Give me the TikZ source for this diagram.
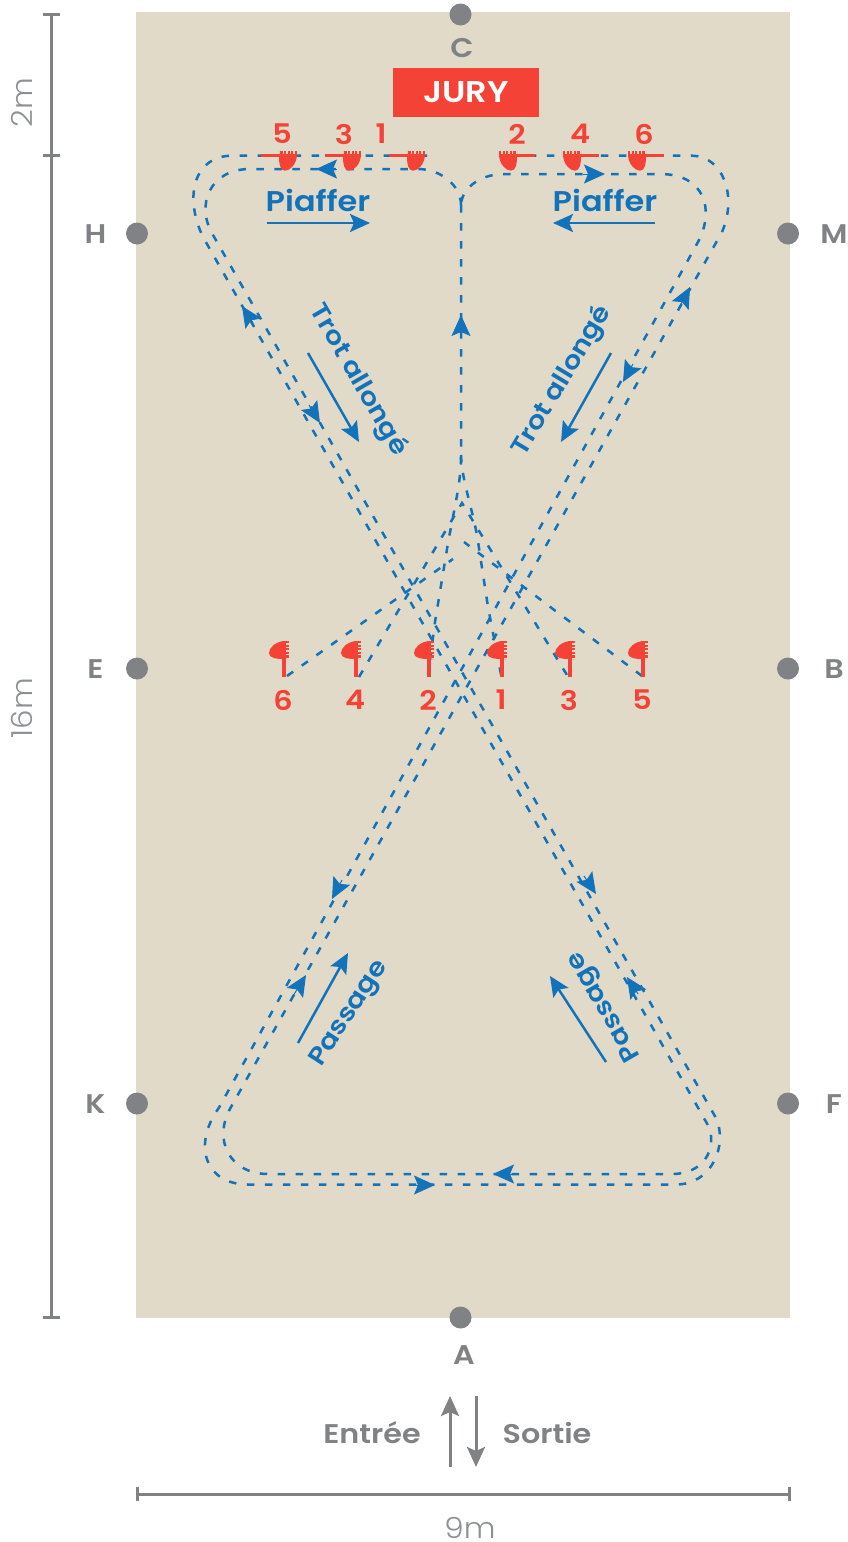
\documentclass[tikz,border=0pt]{standalone}
\usepackage{fontspec}
\setmainfont{Poppins}[BoldFont={Poppins SemiBold},BoldFeatures={FakeStretch=1.12}]
\newfontfamily\thinfont{Poppins Light}[FakeStretch=1.07]
\usepackage{xcolor}
\usetikzlibrary{arrows.meta,positioning}
\definecolor{sand}{HTML}{E1DAC8}
\definecolor{juryred}{HTML}{F44236}
\definecolor{flowblue}{HTML}{1272BA}
\definecolor{markgray}{HTML}{808285}
\definecolor{thingray}{HTML}{8E9093}
\tikzset{hoof/.pic={
  \fill[juryred] (0,0) .. controls (1,9) and (7,15) .. (12,15) .. controls (17,15) and (18,8) .. (18,0) -- cycle;
  \draw[juryred,line width=3.3pt] (0,0)--(36,0);
  \draw[juryred,line width=3.6pt,dash pattern=on 2.2pt off 1.4pt] (0,-3.3)--(18,-3.3);
}}
\begin{document}
\begin{tikzpicture}[x=1pt,y=-1pt,font=\fontsize{27pt}{30pt}\selectfont\bfseries,
  route/.style={flowblue,line width=2.5pt,dash pattern=on 7.5pt off 10.5pt},
  tip/.style={flowblue,line width=1pt,-{Stealth[length=21pt,width=19pt,inset=4pt]}},
  sign/.style={flowblue,line width=2.5pt,-{Stealth[length=20pt,width=18pt,inset=4pt]}},
  gait/.style={text=flowblue,inner sep=0pt,font=\fontsize{28.5pt}{30pt}\selectfont\bfseries},
  gaitlong/.style={text=flowblue,inner sep=0pt,font=\fontsize{25pt}{30pt}\selectfont\bfseries},
  num/.style={text=juryred,inner sep=0pt},
  dot/.style={circle,fill=markgray,minimum size=22pt,inner sep=0pt},
  letter/.style={text=markgray,inner sep=0pt},
  dim/.style={markgray,line width=3pt},
  dimtxt/.style={text=thingray,inner sep=0pt,font=\fontsize{29pt}{30pt}\selectfont\thinfont},
  way/.style={markgray,line width=3pt,-{Stealth[length=20pt,width=18pt,inset=4pt]}}]
\useasboundingbox (0,0) rectangle (847,1542);
\fill[sand] (136,12) rectangle (790,1318);
\node[fill=juryred,text=white,minimum width=146pt,minimum height=49pt,inner sep=0pt,font=\fontsize{30pt}{30pt}\selectfont\bfseries] (jury) at (466,92.5) {JURY};

\node[dot] (c) at (460.5,14.5) {};
\node[dot] (h) at (137,233.5) {};
\node[dot] (m) at (788,233.5) {};
\node[dot] (e) at (137,668.5) {};
\node[dot] (b) at (788,668.5) {};
\node[dot] (k) at (137,1103.5) {};
\node[dot] (f) at (788,1103.5) {};
\node[dot] (a) at (460.5,1317.5) {};
\node[letter] (lc) at (462,48.5) {C};
\node[letter] (lh) at (95.5,234.5) {H};
\node[letter] (lm) at (834,234.5) {M};
\node[letter] (le) at (95.5,669) {E};
\node[letter] (lb) at (834,669) {B};
\node[letter] (lk) at (95.5,1104) {K};
\node[letter] (lf) at (834,1104) {F};
\node[letter] (la) at (464,1355) {A};

% routes
\draw[route] (427,155.7) -- (232,155.7) .. controls (195,155.7) and (183,195) .. (203,237) -- (709,1127)
  .. controls (717,1150) and (703,1174) .. (672,1174) -- (268,1174) .. controls (230,1174) and (212,1140) .. (231,1107)
  -- (722,232) .. controls (738,195) and (722,155.7) .. (692,155.7) -- (505,155.7);
\draw[route] (461,205) .. controls (461,185) and (440,169) .. (418,169) -- (250,169)
  .. controls (210,169) and (195,205) .. (213,235) -- (716,1118) .. controls (728,1145) and (712,1184.5) .. (676,1184.5)
  -- (248,1184.5) .. controls (205,1184.5) and (192,1145) .. (219,1107.6) -- (698,242)
  .. controls (715,210) and (705,174) .. (660,174) -- (503,174) .. controls (485,174) and (462,185) .. (461,205);
\draw[route] (461,205) -- (461,455) .. controls (461,480) and (457,495) .. (448,543) -- (435,622) -- (428,675);
\draw[route] (461,455) .. controls (462,480) and (470,500) .. (477,535) -- (488,607) -- (503,685);
\draw[route] (287,676) -- (453,559);
\draw[route] (359,677) -- (462,503) -- (567,675);
\draw[route] (642,676) -- (464,542);

\draw[tip] (337,169) -- (316,169);
\draw[tip] (583,174) -- (605,174);
\draw[tip] (461,335) -- (461,315);
\draw[tip] (253,323) -- (242,306);
\draw[tip] (309,405) -- (320,423);
\draw[tip] (633,364) -- (623,382);
\draw[tip] (680,306) -- (690,287);
\draw[tip] (584,876) -- (596,894);
\draw[tip] (638,994) -- (627,977);
\draw[tip] (342,880) -- (332,899);
\draw[tip] (293,996) -- (306,975);
\draw[tip] (515,1174) -- (493,1174);
\draw[tip] (414,1185) -- (435,1185);

\pic[xscale=-1] at (297,155.7) {hoof};
\pic[xscale=-1] at (361,155.7) {hoof};
\pic[xscale=-1] at (425,155.7) {hoof};
\pic at (499,155.7) {hoof};
\pic at (563,155.7) {hoof};
\pic at (628,155.7) {hoof};
\pic[rotate=-90] at (284,641) {hoof};
\pic[rotate=-90] at (356,641) {hoof};
\pic[rotate=-90] at (429,641) {hoof};
\pic[rotate=-90] at (502,641) {hoof};
\pic[rotate=-90] at (570,641) {hoof};
\pic[rotate=-90] at (643,641) {hoof};

\node[num] (n5) at (282,134) {5};
\node[num] (n3) at (344,134) {3};
\node[num] (n1) at (381,134) {1};
\node[num] (n2) at (517,134) {2};
\node[num] (n4) at (580,134) {4};
\node[num] (n6) at (644,134) {6};
\node[num] (s6) at (283,700) {6};
\node[num] (s4) at (355,700) {4};
\node[num] (s2) at (428,700) {2};
\node[num] (s1) at (501,700) {1};
\node[num] (s3) at (569,700) {3};
\node[num] (s5) at (642,700) {5};

\node[gait] (pl) at (318,200.5) {Piaffer};
\node[gait] (pr) at (605,200.5) {Piaffer};
\node[gaitlong,rotate=-60] (tl) at (358,380) {Trot allongé};
\node[gaitlong,rotate=59] (tr) at (562,381) {Trot allongé};
\node[gaitlong,rotate=57] (gl) at (350,1014) {Passage};
\node[gaitlong,rotate=120] (gr) at (605,1006) {Passage};
\draw[sign] (267,223) -- (370,223);
\draw[sign] (655,223) -- (553,223);
\draw[sign] (308,353) -- (359,442);
\draw[sign] (611,353) -- (561,442);
\draw[sign] (298,1043) -- (348,953);
\draw[sign] (606,1062) -- (550,976);

% dimensions
\draw[dim] (51,14.5) -- (51,1317);
\draw[dim] (43,14.5) -- (60,14.5);
\draw[dim] (43,155) -- (60,155);
\draw[dim] (43,1317) -- (60,1317);
\draw[dim] (137,1494) -- (789,1494);
\draw[dim] (137,1487) -- (137,1501);
\draw[dim] (789,1487) -- (789,1501);
\node[dimtxt,rotate=90] (d2) at (22,103) {2m};
\node[dimtxt,rotate=90] (d16) at (22,708) {16m};
\node[dimtxt] (d9) at (470,1528) {9m};

\node[letter] (in) at (372,1433) {Entrée};
\node[letter] (out) at (547,1433) {Sortie};
\draw[way] (450,1467) -- (450,1396);
\draw[way] (476,1396) -- (476,1467);
\end{tikzpicture}
\end{document}
